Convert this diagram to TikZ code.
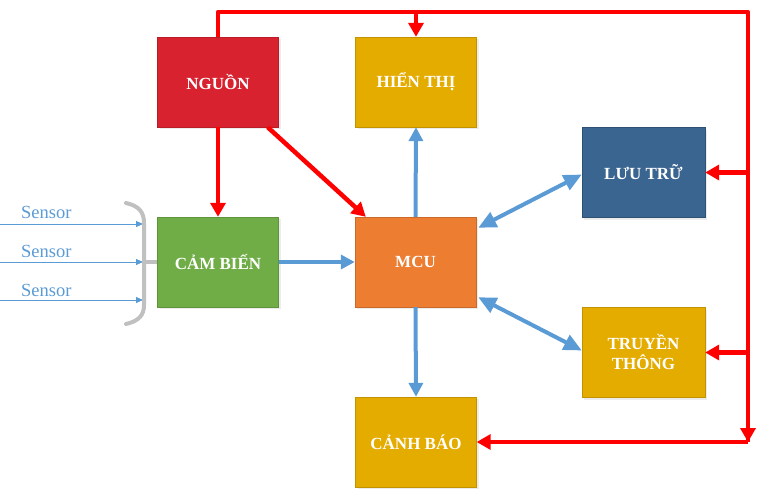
\documentclass[tikz,border=0pt]{standalone}
\usepackage{fontspec}
\setmainfont{Liberation Serif}
\usetikzlibrary{arrows.meta,calc,shadows}
\definecolor{cred}{HTML}{D8222F}
\definecolor{cgold}{HTML}{E5AC00}
\definecolor{cblue}{HTML}{3A6590}
\definecolor{cgreen}{HTML}{70AD47}
\definecolor{corange}{HTML}{ED7D31}
\definecolor{lblue}{HTML}{5B9BD5}
\definecolor{bgray}{HTML}{C0C0C0}
\tikzset{
  box/.style={minimum width=121pt, minimum height=90pt, inner sep=2pt, align=center,
    text=white, font=\fontsize{17}{19}\selectfont\bfseries,
    drop shadow={opacity=0.15, shadow xshift=2pt, shadow yshift=-2pt}},
  redline/.style={draw=red, line width=4.5pt},
  redarrow/.style={redline, -{Triangle[length=14pt,width=15pt]}},
  bluearrow/.style={draw=lblue, line width=4pt, -{Triangle[length=14pt,width=14pt]}},
  bluedouble/.style={draw=lblue, line width=4pt, {Triangle[length=18pt,width=16pt]}-{Triangle[length=18pt,width=16pt]}},
  sensorarrow/.style={draw=lblue, line width=0.9pt, -{Triangle[length=7pt,width=6pt]}},
  sensortext/.style={text=lblue, font=\fontsize{18.5}{20}\selectfont, inner sep=0pt, anchor=base west},
}
\begin{document}
\begin{tikzpicture}[x=1pt,y=-1pt]
\useasboundingbox (0,0) rectangle (766,493);
% boxes
\node[box, fill=cred, draw=cred!85!black] (nguon) at (218,82) {NGUỒN};
\node[box, fill=cgold, draw=cgold!85!black] (hienthi) at (416,82) {HIỂN THỊ};
\node[box, fill=cblue, draw=cblue!80!black, minimum width=123pt] (luutru) at (643.5,172.5) {LƯU TRỮ};
\node[box, fill=cgreen, draw=cgreen!85!black] (cambien) at (218,262) {CẢM BIẾN};
\node[box, fill=corange, draw=corange!85!black] (mcu) at (415.5,262) {MCU};
\node[box, fill=cgold, draw=cgold!85!black, minimum width=123pt] (truyen) at (643.5,352.5) {TRUYỀN\\[1pt]THÔNG};
\node[box, fill=cgold, draw=cgold!85!black] (canhbao) at (416,442) {CẢNH BÁO};
% red power lines
\coordinate (TR) at (748,12);
\coordinate (BR) at (748,442);
\draw[redline, line join=round] (nguon.north) |- (TR) -- (BR);
\draw[redarrow] (748,420) -- (BR);
\draw[redarrow] (BR) -- (canhbao.east);
\draw[redarrow] (hienthi.north |- TR) -- (hienthi.north);
\draw[redarrow] (luutru.east -| TR) -- (luutru.east);
\draw[redarrow] (truyen.east -| TR) -- (truyen.east);
\draw[redarrow] (nguon.south) -- (cambien.north);
\coordinate (n1) at ($(nguon.south east)+(-11,0)$);
\coordinate (m0) at ($(mcu.north west)+(11,0)$);
\draw[redarrow] (n1) -- (m0);
% blue data lines
\draw[bluearrow] (cambien.east) -- (mcu.west);
\draw[bluearrow] (mcu.north) -- (hienthi.south);
\draw[bluearrow] (mcu.south) -- (canhbao.north);
\coordinate (m1) at ($(mcu.north east)+(2,11)$);
\coordinate (l1) at ($(luutru.west)+(0,2)$);
\draw[bluedouble] (m1) -- (l1);
\coordinate (m2) at ($(mcu.south east)+(2,-10)$);
\coordinate (t1) at ($(truyen.west)+(0,-2)$);
\draw[bluedouble] (m2) -- (t1);
% sensors
\coordinate (s1a) at (0,224); \coordinate (s1b) at (143,224);
\coordinate (s2a) at (0,262); \coordinate (s2b) at (143,262);
\coordinate (s3a) at (0,300); \coordinate (s3b) at (143,300);
\draw[sensorarrow] (s1a) -- (s1b);
\draw[sensorarrow] (s2a) -- (s2b);
\draw[sensorarrow] (s3a) -- (s3b);
\node[sensortext] (t1s) at (21,218) {Sensor};
\node[sensortext] (t2s) at (21,257) {Sensor};
\node[sensortext] (t3s) at (21,296) {Sensor};
% bracket
\coordinate (bmid) at (144,262);
\draw[bgray, line width=4pt, line cap=round] (126,203) .. controls (139,206) and (144,212) .. (144,223) -- (144,305) .. controls (144,315) and (139,321) .. (126,324);
\draw[bgray, line width=4pt] (bmid) -- (cambien.west);
\end{tikzpicture}
\end{document}
